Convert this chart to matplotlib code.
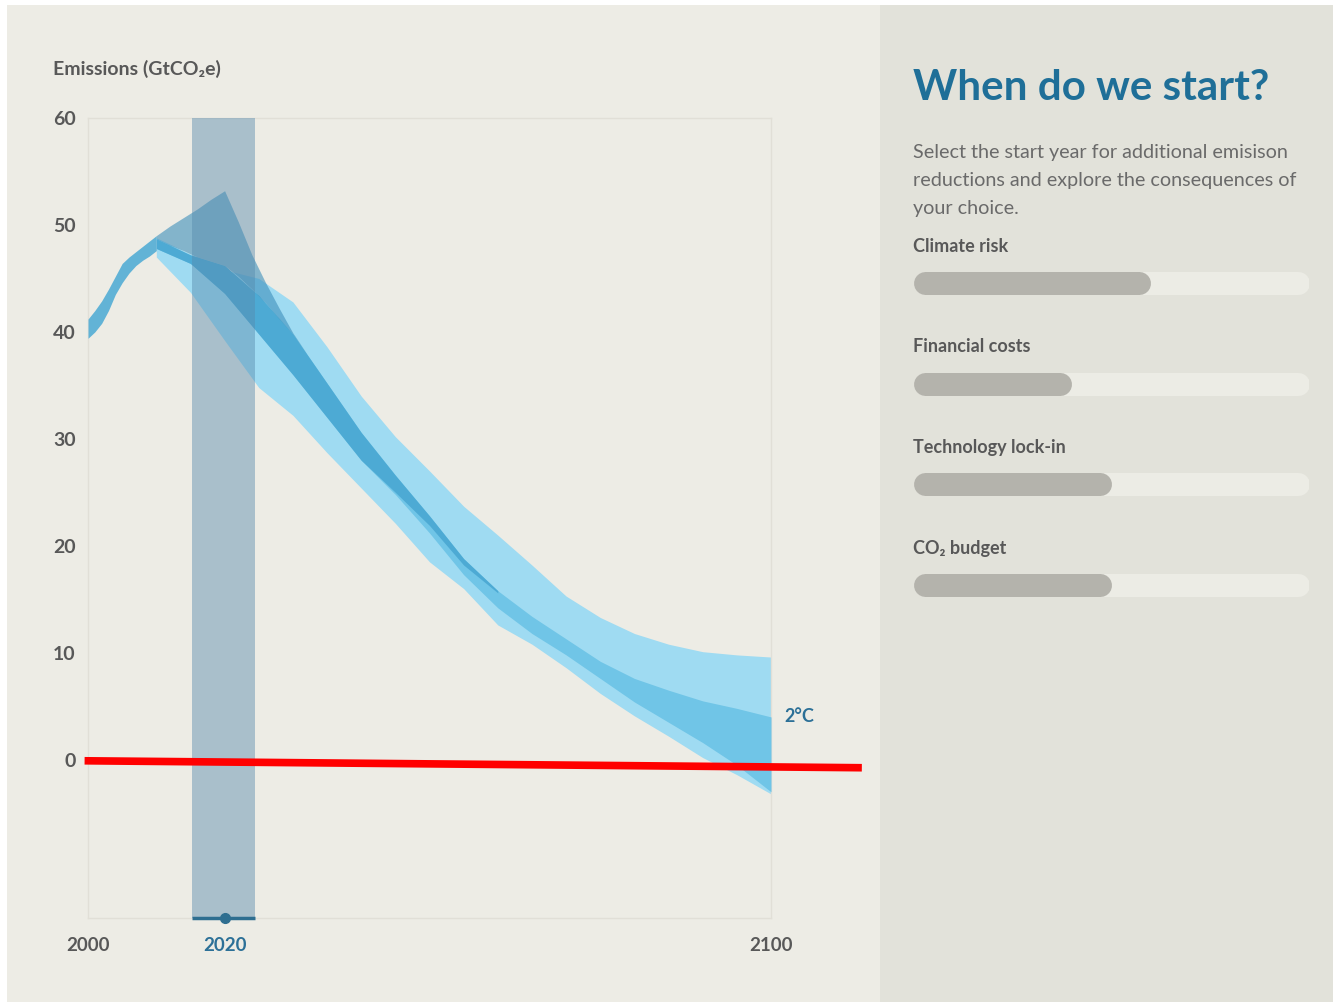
"""'When do we start?' emissions pathway chart with indicator panel."""

import matplotlib

matplotlib.use("Agg")
import matplotlib.pyplot as plt  # noqa: E402
from matplotlib.patches import Rectangle  # noqa: E402

# historical emissions band (GtCO2e)
HIST_YEARS = [2000, 2001, 2002, 2003, 2004, 2005, 2006, 2007, 2008, 2009, 2010]
HIST_HIGH = [41.2, 42.0, 42.9, 44.0, 45.2, 46.4, 47.0, 47.5, 48.0, 48.5, 49.0]
HIST_LOW = [39.4, 40.0, 40.8, 42.0, 43.5, 44.6, 45.5, 46.2, 46.7, 47.1, 47.6]

# 2 degree pathways
PROJ_YEARS = [2010, 2015, 2020, 2025, 2030, 2035, 2040, 2045, 2050, 2055,
              2060, 2065, 2070, 2075, 2080, 2085, 2090, 2095, 2100]
WIDE_HIGH = [48.8, 47.3, 45.8, 45.0, 42.8, 38.6, 34.0, 30.2, 27.0, 23.7,
             21.0, 18.2, 15.3, 13.3, 11.8, 10.8, 10.1, 9.8, 9.6]
WIDE_LOW = [47.0, 43.7, 39.2, 34.8, 32.2, 28.7, 25.4, 22.1, 18.5, 16.0,
            12.6, 10.8, 8.6, 6.2, 4.1, 2.2, 0.2, -1.4, -3.2]
CORE_HIGH = [48.7, 47.2, 46.2, 43.4, 39.8, 35.2, 30.6, 26.6, 22.8, 18.8,
             15.8, 13.4, 11.3, 9.2, 7.6, 6.5, 5.5, 4.8, 4.0]
CORE_LOW = [47.8, 46.4, 43.6, 39.8, 36.0, 32.0, 28.0, 24.8, 21.2, 17.3,
            14.2, 11.8, 9.8, 7.6, 5.4, 3.5, 1.6, -0.5, -3.0]

# likely range, fades out after mid-century
LIKELY_YEARS = [2010, 2015, 2020, 2025, 2030, 2035, 2040, 2045, 2050, 2055, 2060]
LIKELY_HIGH = [48.7, 47.2, 46.2, 43.4, 39.8, 35.2, 30.6, 26.6, 22.8, 18.8, 15.8]
LIKELY_LOW = [47.8, 46.4, 43.6, 39.8, 36.0, 32.0, 28.0, 25.0, 21.9, 18.2, 15.6]

# delayed-start pathway (peak in the selected year)
DELAY_YEARS = [2010, 2012, 2014, 2016, 2018, 2020, 2022, 2024, 2026, 2028, 2030, 2032]
DELAY_HIGH = [49.0, 49.9, 50.7, 51.5, 52.4, 53.2, 50.3, 47.2, 44.6, 42.2, 39.9, 38.0]
DELAY_LOW = [48.7, 48.1, 47.6, 47.0, 46.6, 46.2, 45.2, 44.0, 42.7, 41.2, 39.8, 38.0]

START_YEAR = 2020
START_WINDOW = [2015.3, 2024.5]
Y_TICKS = [0, 10, 20, 30, 40, 50, 60]
X_TICKS = [2000, 2020, 2100]
TARGET_LABEL = "2°C"
TARGET_Y = 4.0
RED_LINE_X = [1999.5, 2113.3]
RED_LINE_Y = [-0.1, -0.75]

INDICATORS = ["Climate risk", "Financial costs", "Technology lock-in", "CO₂ budget"]
INDICATOR_LEVELS = [0.60, 0.40, 0.50, 0.50]

TITLE = "When do we start?"
INTRO = [
    "Select the start year for additional emisison",
    "reductions and explore the consequences of",
    "your choice.",
]

W, H = 1337, 1002
LEFT_BG = "#EDECE5"
RIGHT_BG = "#E2E2DA"
FRAME = "#E1DFD7"
LABEL_GREY = "#585858"
BLUE_TEXT = "#1F6F98"

plt.rcParams["font.family"] = ["Lato", "DejaVu Sans"]

fig = plt.figure(figsize=(W / 100, H / 100), dpi=100)
fig.patch.set_facecolor("white")

# background / free text, in pixel coordinates
bg = fig.add_axes([0, 0, 1, 1], zorder=0)
bg.set_xlim(0, W)
bg.set_ylim(H, 0)
bg.axis("off")
bg.add_patch(Rectangle((7, 5), 873, H - 5, color=LEFT_BG, lw=0))
bg.add_patch(Rectangle((880, 5), 453, H - 5, color=RIGHT_BG, lw=0))

bg.text(53, 75, "Emissions (GtCO₂e)", fontsize=14, fontweight="bold",
        color=LABEL_GREY, va="baseline", ha="left")
bg.text(913, 100, TITLE, fontsize=30.3, fontweight="bold", color=BLUE_TEXT,
        va="baseline", ha="left")
for i, line in enumerate(INTRO):
    bg.text(913, 158 + 28 * i, line, fontsize=14.2, color="#6A6A6A",
            va="baseline", ha="left")

# main chart
ax = fig.add_axes([88 / W, (H - 918) / H, 683 / W, 800 / H], zorder=1)
ax.set_facecolor("none")
ax.set_xlim(2000, 2100)
ax.set_ylim(-14.8, 60)

ax.fill_between(PROJ_YEARS, WIDE_LOW, WIDE_HIGH, color="#9FDBF2", lw=0, zorder=2)
ax.fill_between(PROJ_YEARS, CORE_LOW, CORE_HIGH, color="#70C5E7", lw=0, zorder=3)
ax.fill_between(LIKELY_YEARS, LIKELY_LOW, LIKELY_HIGH, color="#4DAAD4", lw=0, zorder=4)
ax.fill_between(DELAY_YEARS, DELAY_LOW, DELAY_HIGH, color="#3D8FBB", alpha=0.6,
                lw=0, zorder=5)
ax.fill_between(HIST_YEARS, HIST_LOW, HIST_HIGH, color="#62B3D6", lw=0, zorder=5)

# selected start window
ax.axvspan(START_WINDOW[0], START_WINDOW[1], color="#568AAD", alpha=0.45,
           lw=0, zorder=6)
ax.plot(START_WINDOW, [-14.8, -14.8], color="#2E6E90", lw=2.5,
        solid_capstyle="butt", clip_on=False, zorder=7)
ax.plot([START_YEAR], [-14.8], "o", color="#2E6E90", ms=7, clip_on=False, zorder=8)

ax.text(2102, TARGET_Y, TARGET_LABEL, fontsize=13, fontweight="bold",
        color="#2C7097", va="center", ha="left")

ax.plot(RED_LINE_X, RED_LINE_Y, color="#FF0000", lw=5.5, clip_on=False,
        solid_capstyle="butt", zorder=9)

for side in ["left", "right", "top", "bottom"]:
    ax.spines[side].set_color(FRAME)
    ax.spines[side].set_linewidth(1)
ax.set_yticks(Y_TICKS)
ax.set_xticks(X_TICKS)
ax.set_xticklabels([str(x) for x in X_TICKS])
ax.tick_params(length=0, labelsize=13.5, labelcolor=LABEL_GREY)
ax.tick_params(axis="y", labelsize=14, pad=9)
ax.tick_params(axis="x", pad=14)
for lab in ax.get_xticklabels() + ax.get_yticklabels():
    lab.set_fontweight("bold")
ax.get_xticklabels()[X_TICKS.index(START_YEAR)].set_color("#2C7097")

# indicator bars
bar_top, bar_step = 283 - 50.35, 100.7
bars = fig.add_axes([913 / W, (H - (bar_top + 4 * bar_step)) / H, 396 / W,
                     4 * bar_step / H], zorder=1)
bars.set_xlim(0, 1)
bars.set_ylim(3.5, -0.5)
bars.axis("off")
bar_px = 23
cap = (bar_px / 2) / 396
for i, (name, level) in enumerate(zip(INDICATORS, INDICATOR_LEVELS)):
    bars.plot([cap, 1 - cap], [i, i], color="#ECECE5", lw=bar_px * 0.72,
              solid_capstyle="round")
    bars.plot([cap, level - cap], [i, i], color="#B4B3AC", lw=bar_px * 0.72,
              solid_capstyle="round")
    bars.text(0, i - 0.31, name, fontsize=13, fontweight="bold",
              color=LABEL_GREY, va="baseline", ha="left")

fig.savefig("out.png", dpi=100, facecolor=fig.get_facecolor())
